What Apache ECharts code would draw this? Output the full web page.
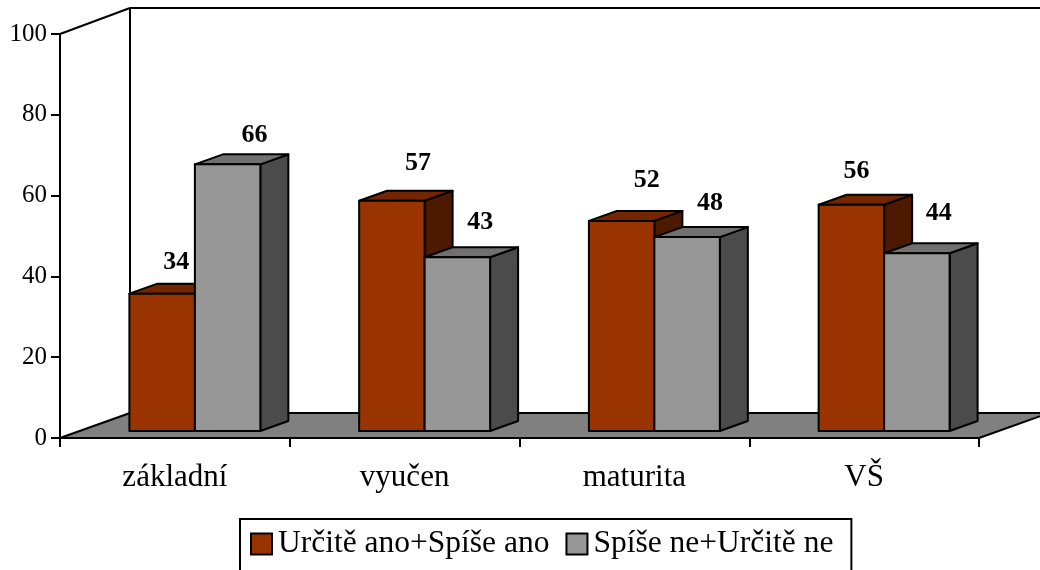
<!DOCTYPE html>
<html>
<head>
<meta charset="utf-8">
<style>
  html, body { margin: 0; padding: 0; background: #fff; }
  #chart { width: 1040px; height: 570px; }
</style>
<script src="https://cdn.jsdelivr.net/npm/echarts@6/dist/echarts.min.js"></script>
</head>
<body>
<div id="chart"></div>
<script>
// data
const categories = ['základní', 'vyučen', 'maturita', 'VŠ'];
const ano = [34, 57, 52, 56];
const ne = [66, 43, 48, 44];
const yTicks = { min: 0, max: 100, interval: 20 };

const seriesNames = ['Určitě ano+Spíše ano', 'Spíše ne+Určitě ne'];

// pixel look of the fake 3d
const FONT = '"Liberation Serif", "Times New Roman", serif';
const WALL_DX = 70, WALL_DY = -25;
const BAR_DX = 28, BAR_DY = -10;
const BAR_LIFT = 7;
const BAR_SHIFT = 20;
const BAR_BAND = 0.285;
// where excel left each value label, relative to the bar top centre
const anoLabelNudge = [[14, -31], [26, -37], [25, -41], [5, -33]];
const neLabelNudge = [[27, -29], [23, -35], [23, -34], [22, -40]];

const chart = echarts.init(document.getElementById('chart'));

function line(a, b) {
    return {
        type: 'line',
        shape: { x1: a[0], y1: a[1], x2: b[0], y2: b[1] },
        style: { stroke: '#000', lineWidth: 2 }
    };
}

function poly(points, fill) {
    return {
        type: 'polygon',
        shape: { points: points },
        style: { fill: fill, stroke: '#000', lineWidth: 2, lineJoin: 'round' }
    };
}

// floor and back wall
function renderRoom(params, api) {
    const band = api.size([1, 0])[0];
    const left = api.coord([0, 0])[0] - band / 2;
    const right = api.coord([categories.length - 1, 0])[0] + band / 2;
    const y0 = api.coord([0, 0])[1];
    const y100 = api.coord([0, 100])[1];
    return {
        type: 'group',
        children: [
            poly([
                [left, y0],
                [left + WALL_DX, y0 + WALL_DY],
                [right + WALL_DX, y0 + WALL_DY],
                [right, y0]
            ], '#808080'),
            line([left, y100], [left + WALL_DX, y100 + WALL_DY - 1]),
            line([left + WALL_DX, y100 + WALL_DY - 1], [right + WALL_DX, y100 + WALL_DY - 1]),
            line([left + WALL_DX, y100 + WALL_DY - 1], [left + WALL_DX, y0 + WALL_DY])
        ]
    };
}

function barRenderer(side, colors, nudges) {
    return function (params, api) {
        const i = api.value(0);
        const val = api.value(1);
        const band = api.size([1, 0])[0];
        const w = band * BAR_BAND;
        const c = api.coord([i, 0]);
        const t = api.coord([i, val]);
        const x0 = c[0] + BAR_SHIFT + (side < 0 ? -w : 0);
        const x1 = x0 + w;
        const y0 = c[1] - BAR_LIFT;
        const y1 = t[1] - BAR_LIFT;
        const n = nudges[params.dataIndex];
        return {
            type: 'group',
            children: [
                poly([[x1, y1], [x1 + BAR_DX, y1 + BAR_DY], [x1 + BAR_DX, y0 + BAR_DY], [x1, y0]], colors.side),
                poly([[x0, y1], [x0 + BAR_DX, y1 + BAR_DY], [x1 + BAR_DX, y1 + BAR_DY], [x1, y1]], colors.top),
                poly([[x0, y1], [x1, y1], [x1, y0], [x0, y0]], colors.front),
                {
                    type: 'text',
                    style: {
                        x: (x0 + x1) / 2 + n[0],
                        y: y1 + n[1],
                        text: String(val),
                        fill: '#000',
                        font: 'bold 26px ' + FONT,
                        align: 'center',
                        verticalAlign: 'middle'
                    }
                }
            ]
        };
    };
}

function toData(values) {
    return values.map((v, i) => [i, v]);
}

const option = {
    animation: false,
    backgroundColor: '#fff',
    grid: { left: 60, right: 61, top: 34, bottom: 132 },
    legend: {
        left: 240,
        top: 519,
        padding: [9, 18, 20, 10],
        itemWidth: 21,
        itemHeight: 21,
        itemGap: 16,
        borderColor: '#000',
        borderWidth: 2,
        data: seriesNames.map(name => ({ name: name, icon: 'rect' })),
        textStyle: { fontFamily: FONT, fontSize: 31.5, color: '#000', padding: [11, 0, 0, 1] }
    },
    xAxis: {
        type: 'category',
        data: categories,
        axisLine: { lineStyle: { color: '#000', width: 2 } },
        axisTick: { show: true, length: 9, lineStyle: { color: '#000', width: 2 } },
        axisLabel: { fontFamily: FONT, fontSize: 31, color: '#000', margin: 24 }
    },
    yAxis: {
        type: 'value',
        min: yTicks.min,
        max: yTicks.max,
        interval: yTicks.interval,
        splitLine: { show: false },
        axisLine: { show: true, lineStyle: { color: '#000', width: 2 } },
        axisTick: { show: true, length: 9, lineStyle: { color: '#000', width: 2 } },
        axisLabel: { fontFamily: FONT, fontSize: 25, color: '#000', margin: 13, padding: [4, 0, 0, 0] }
    },
    series: [
        {
            type: 'custom',
            name: 'room',
            z: 1,
            clip: false,
            silent: true,
            data: [[0, 0]],
            encode: { x: 0, y: 1 },
            renderItem: renderRoom
        },
        {
            type: 'custom',
            name: seriesNames[0],
            z: 3,
            clip: false,
            itemStyle: { color: '#993300', borderColor: '#000', borderWidth: 2 },
            data: toData(ano),
            encode: { x: 0, y: 1 },
            renderItem: barRenderer(-1, { front: '#993300', side: '#4d1a00', top: '#732600' }, anoLabelNudge)
        },
        {
            type: 'custom',
            name: seriesNames[1],
            z: 4,
            clip: false,
            itemStyle: { color: '#969696', borderColor: '#000', borderWidth: 2 },
            data: toData(ne),
            encode: { x: 0, y: 1 },
            renderItem: barRenderer(1, { front: '#969696', side: '#4b4b4b', top: '#707070' }, neLabelNudge)
        }
    ]
};

chart.setOption(option);
</script>
</body>
</html>
